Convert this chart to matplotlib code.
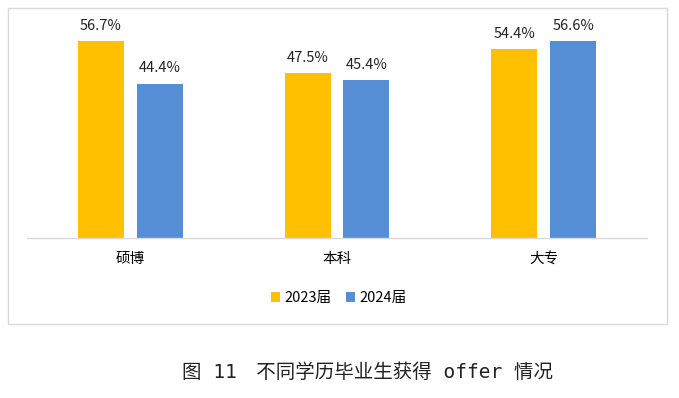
import matplotlib.pyplot as plt
from matplotlib.patches import Rectangle

plt.rcParams['font.family'] = ['Noto Sans CJK SC', 'DejaVu Sans']

categories = ['硕博', '本科', '大专']
series_names = ['2023届', '2024届']
values_2023 = [56.7, 47.5, 54.4]
values_2024 = [44.4, 45.4, 56.6]
caption = '图 11\u3000不同学历毕业生获得 offer 情况'

W, H = 679, 398
fig = plt.figure(figsize=[W / 100, H / 100], dpi=100)

# outer gray frame around the chart area
fig.patches.append(Rectangle((7.5 / W, (H - 324) / H), 659.5 / W, 316 / H,
                             transform=fig.transFigure, fill=False,
                             edgecolor='#D9D9D9', linewidth=1.0))

ax = fig.add_axes([27 / W, (H - 238) / H, 620 / W, 208.4 / H])

x = range(len(categories))
w = 0.2226
off = 0.1427
b1 = ax.bar([i - off for i in x], values_2023, w, color='#FFC000', label=series_names[0])
b2 = ax.bar([i + off for i in x], values_2024, w, color='#558ED5', label=series_names[1])

for bars, vals in [(b1, values_2023), (b2, values_2024)]:
    for r, v in zip(bars, vals):
        ax.annotate(f'{v:.1f}%', (r.get_x() + r.get_width() / 2, v),
                    xytext=(0, 6), textcoords='offset points',
                    ha='center', va='bottom', fontsize=10.5, color='#222222')

ax.set_xlim(-0.5, 2.5)
ax.set_ylim(0, 60)
ax.set_xticks(list(x))
ax.set_xticklabels(categories, fontsize=10.5)
ax.tick_params(axis='x', length=0, pad=10)
ax.set_yticks([])
for s in ['top', 'left', 'right']:
    ax.spines[s].set_visible(False)
ax.spines['bottom'].set_color('#D9D9D9')
ax.spines['bottom'].set_linewidth(1.0)

fig.legend(handles=[b1, b2], loc='center', bbox_to_anchor=(339 / W, 1 - 298 / H),
           ncol=2, frameon=False, fontsize=10.5, handlelength=0.62, handleheight=0.62,
           handletextpad=0.3, columnspacing=1.0)

fig.text(367 / W, 1 - 372 / H, caption, ha='center', va='center', fontsize=14,
         family=['DejaVu Sans Mono', 'Noto Sans CJK SC'], color='#222222')

fig.savefig('out.png', dpi=100)
